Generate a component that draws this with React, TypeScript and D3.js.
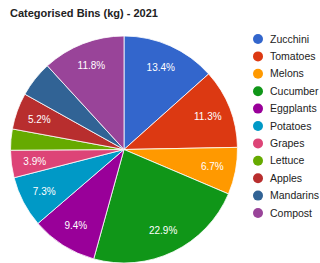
import React, { useEffect, useRef } from 'react';
import * as d3 from 'd3';

const categories = ['Zucchini', 'Tomatoes', 'Melons', 'Cucumber', 'Eggplants', 'Potatoes', 'Grapes', 'Lettuce', 'Apples', 'Mandarins', 'Compost'];
const shares = [13.4, 11.3, 6.7, 22.9, 9.4, 7.3, 3.9, 3.0, 5.2, 5.1, 11.8];
// google hides text on slices where it does not fit
const showText = [true, true, true, true, true, true, true, false, true, false, true];
const colors = ['#3366cc', '#dc3912', '#ff9900', '#109618', '#990099', '#0099c6', '#dd4477', '#66aa00', '#b82e2e', '#316395', '#994499'];
const title = 'Categorised Bins (kg) - 2021';

const App: React.FC = () => {
  const svgRef = useRef<SVGSVGElement>(null);

  useEffect(() => {
    if (!svgRef.current) return;
    const svg = d3.select(svgRef.current);
    svg.selectAll('*').remove();

    const cx = 124;
    const cy = 149.5;
    const radius = 113.5;

    svg.append('rect').attr('width', 320).attr('height', 263).attr('fill', '#fff');

    svg.append('text')
      .attr('x', 10)
      .attr('y', 17)
      .attr('font-family', '"Liberation Sans", Arial, sans-serif')
      .attr('font-size', '11px')
      .attr('font-weight', 'bold')
      .attr('fill', '#222')
      .text(title);

    const pie = d3.pie<number>().sort(null).value(d => d);
    const arcs = pie(shares);
    const arc = d3.arc<d3.PieArcDatum<number>>().innerRadius(0).outerRadius(radius);
    const labelArc = d3.arc<d3.PieArcDatum<number>>().innerRadius(90).outerRadius(90);
    const total = d3.sum(shares);

    const g = svg.append('g').attr('transform', `translate(${cx},${cy})`);

    g.selectAll('path')
      .data(arcs)
      .enter()
      .append('path')
      .attr('d', arc)
      .attr('fill', (_d, i) => colors[i])
      .attr('stroke', '#fff')
      .attr('stroke-width', 0.8);

    g.selectAll('.lbl')
      .data(arcs.filter((_d, i) => showText[i]))
      .enter()
      .append('text')
      .attr('class', 'lbl')
      .attr('transform', d => `translate(${labelArc.centroid(d)})`)
      .attr('text-anchor', 'middle')
      .attr('dy', '0.35em')
      .attr('font-family', '"Liberation Sans", Arial, sans-serif')
      .attr('font-size', '10px')
      .attr('fill', '#fff')
      .text(d => `${((d.value / total) * 100).toFixed(1)}%`);

    const legend = svg.append('g').attr('transform', 'translate(258,39)');
    const step = 17.4;
    const items = legend.selectAll('g')
      .data(categories)
      .enter()
      .append('g')
      .attr('transform', (_d, i) => `translate(0,${i * step})`);

    items.append('circle').attr('r', 5).attr('fill', (_d, i) => colors[i]);
    items.append('text')
      .attr('x', 12)
      .attr('dy', '0.35em')
      .attr('font-family', '"Liberation Sans", Arial, sans-serif')
      .attr('font-size', '10.5px')
      .attr('fill', '#222')
      .text(d => d);
  }, []);

  return (
    <svg
      ref={svgRef}
      width={320}
      height={263}
      style={{ position: 'absolute', left: 0, top: 0, display: 'block' }}
    />
  );
};

export default App;
